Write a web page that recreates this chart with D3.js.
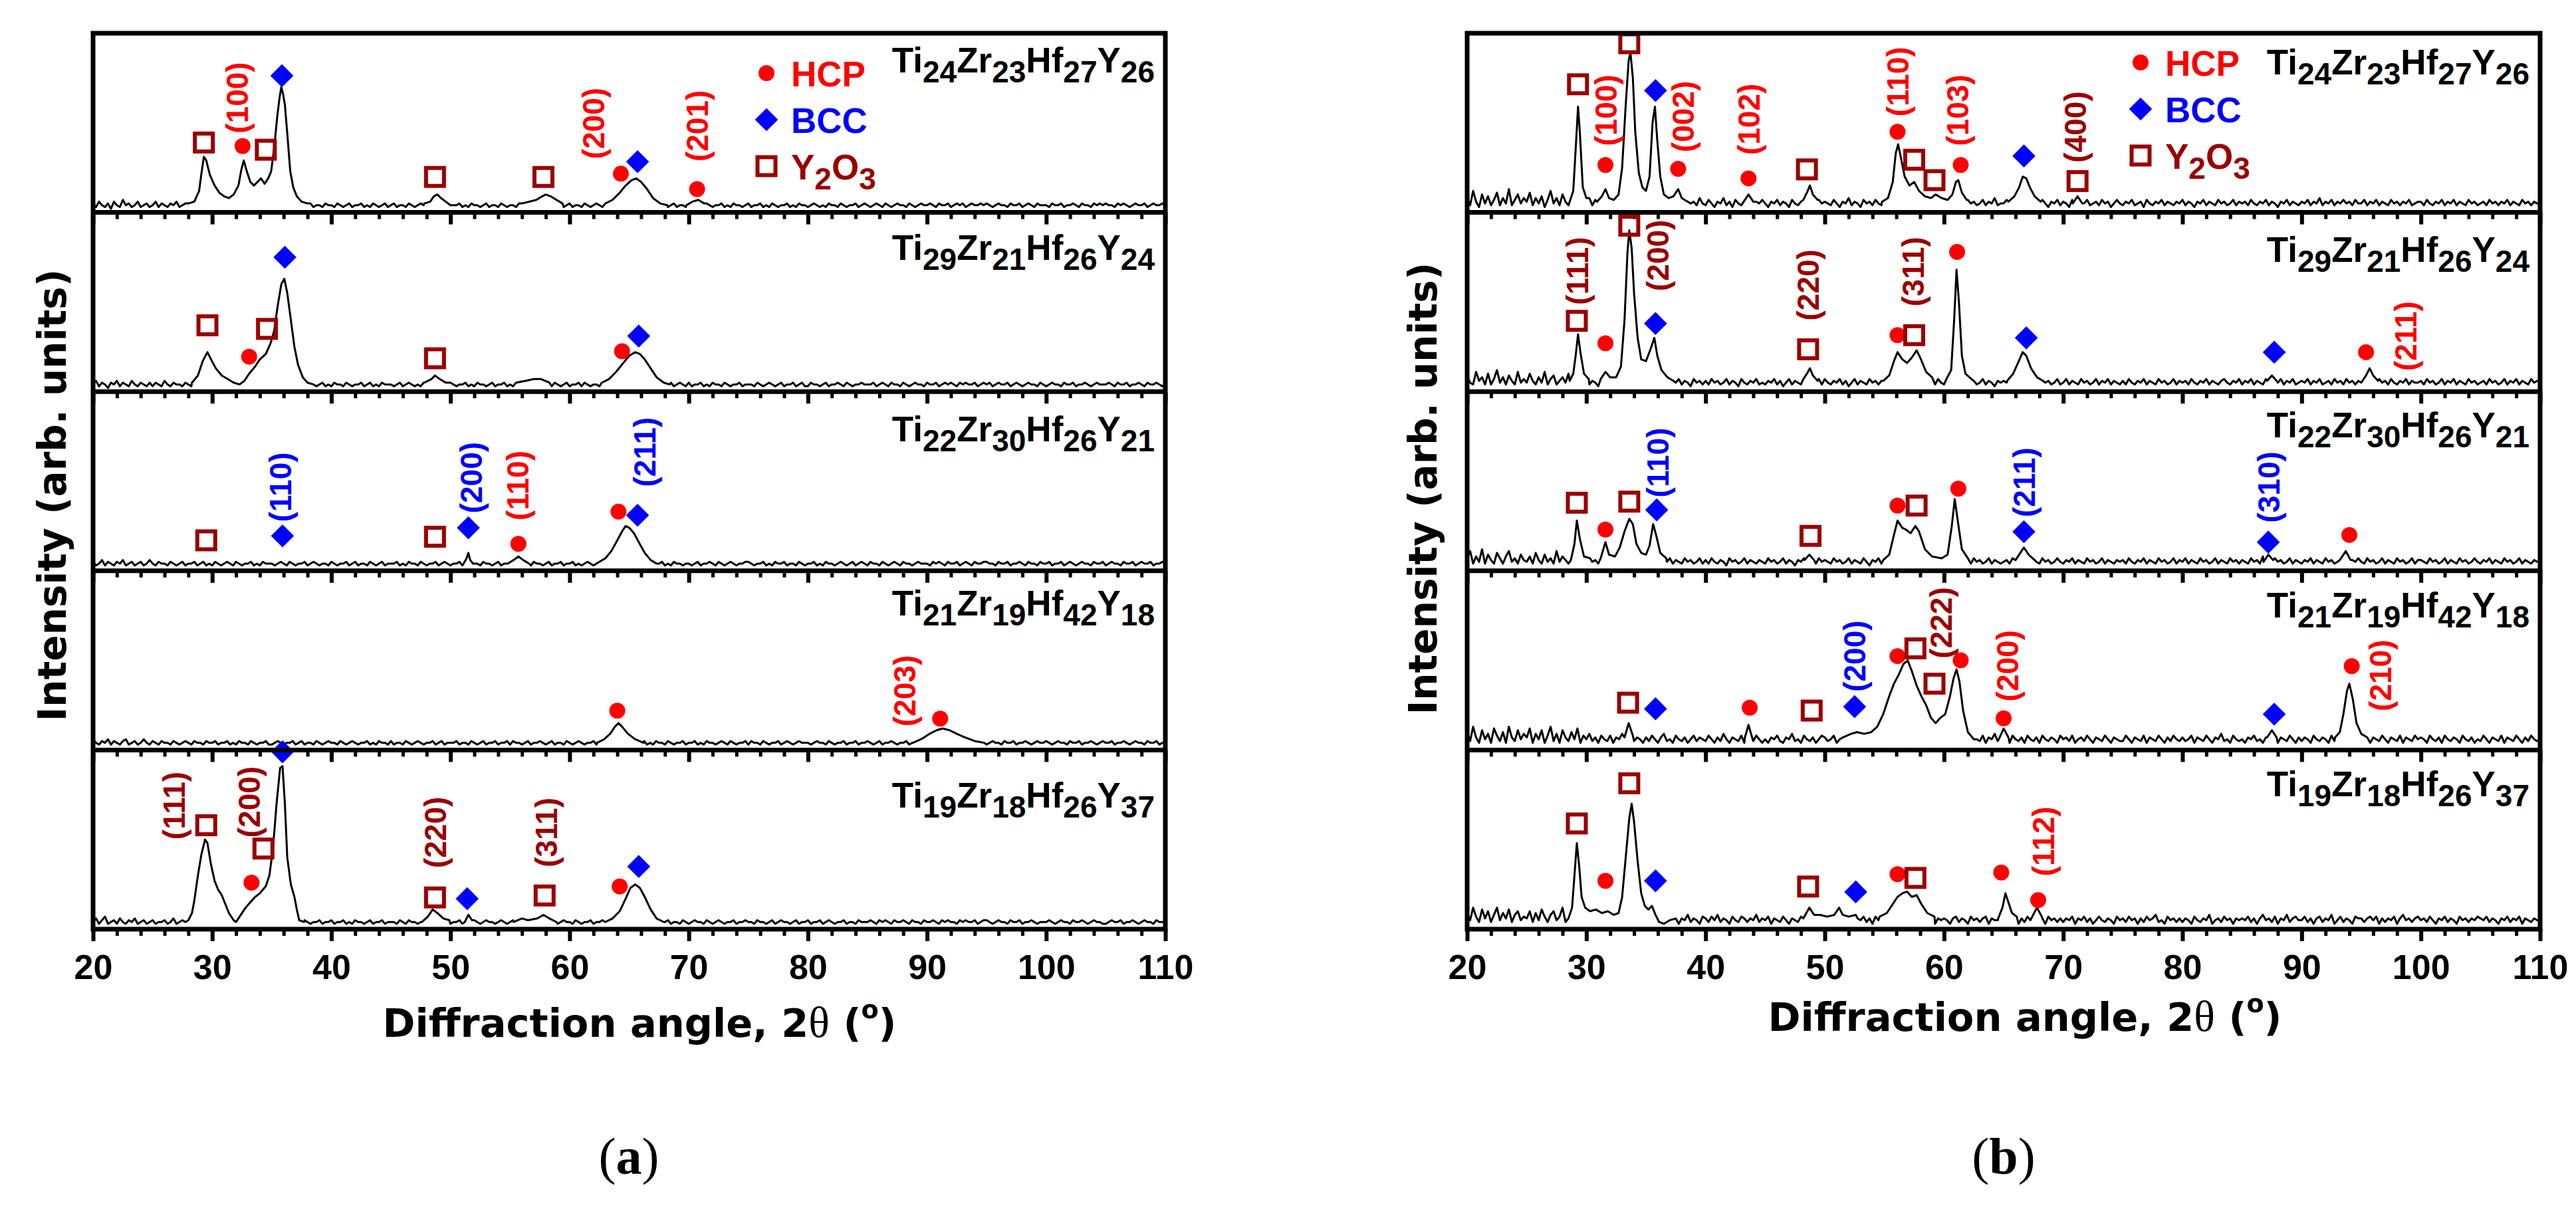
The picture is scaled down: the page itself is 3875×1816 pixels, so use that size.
<!DOCTYPE html>
<html>
<head>
<meta charset="utf-8">
<script src="https://cdn.jsdelivr.net/npm/d3@7"></script>
<style>
  body { margin: 0; background: #fff; }
  svg { font-family: "Liberation Sans", Arial, sans-serif; }
</style>
</head>
<body>
<div class="chart"></div>
<script>
// ---- data (intensity in % of each sub-panel height) ----
const samples = ["Ti24Zr23Hf27Y26", "Ti29Zr21Hf26Y24", "Ti22Zr30Hf26Y21", "Ti21Zr19Hf42Y18", "Ti19Zr18Hf26Y37"];
const xTicks = [20, 30, 40, 50, 60, 70, 80, 90, 100, 110];

// noisy baselines, 20..110 deg every 0.25 deg (one row = 5 deg)
const base_a1 = [
  5,3,6,4,3,5,2,6,4,3,7,4,5,3,4,6,3,4,5,3, 4,6,3,5,4,3,5,4,6,3,4,5,3,4,5,3,4,5,4,3,
  4,3,5,4,3,5,4,3,4,5,3,4,5,3,4,4,5,3,4,5, 3,4,5,4,3,5,4,4,3,5,4,3,4,5,3,4,4,3,5,4,
  4,3,5,4,3,4,5,3,4,4,5,3,4,3,5,4,3,4,5,3, 4,5,3,4,4,3,5,4,3,4,5,4,3,4,3,5,4,3,4,5,
  3,4,4,5,3,4,3,5,4,4,3,4,5,3,4,4,3,5,4,3, 4,4,3,5,4,3,4,5,3,4,4,3,4,5,3,4,5,4,3,4,
  5,3,4,4,3,5,4,3,4,5,4,3,4,3,5,4,4,3,5,4, 3,4,5,3,4,4,5,3,4,3,5,4,4,3,4,5,3,4,4,3,
  4,5,3,4,3,4,5,4,3,4,4,5,3,4,3,5,4,4,3,4, 5,3,4,4,5,3,4,3,5,4,3,4,4,5,3,4,3,5,4,4,
  3,4,5,4,3,4,3,5,4,4,3,5,4,3,4,4,5,3,4,5, 4,3,4,5,4,3,5,4,3,4,5,4,4,3,5,4,3,4,5,4,
  4,5,4,3,5,4,4,5,3,4,5,4,5,3,4,5,4,4,5,4, 5,4,3,4,5,4,4,3,5,4,4,5,3,4,5,4,3,5,4,4,
  4,3,5,4,4,5,3,4,4,5,4,3,5,4,4,3,5,4,5,4, 5,4,4,3,5,4,5,4,3,4,5,4,4,5,3,4,5,4,4,5, 4];
const base_a2 = [
  4,6,3,5,4,2,5,4,6,3,5,4,3,6,4,3,5,4,3,5, 3,5,4,3,6,4,3,5,4,4,3,5,4,3,4,5,3,4,6,4,
  4,3,5,4,4,3,5,3,4,5,4,3,4,5,3,4,4,5,3,4, 5,4,3,4,5,3,4,4,3,5,4,3,5,4,4,3,4,5,3,4,
  3,5,4,4,3,5,4,3,4,4,5,3,4,5,3,4,3,5,4,4, 4,3,4,5,3,4,5,4,3,4,3,5,4,4,3,5,4,3,4,5,
  5,4,3,4,4,5,3,4,3,5,4,4,3,4,5,3,4,4,5,3, 4,3,5,4,3,4,4,5,3,4,5,3,4,4,3,5,4,3,4,5,
  3,4,4,5,3,5,4,3,4,4,3,5,4,3,5,4,4,3,4,5, 4,5,3,4,4,3,5,4,3,5,4,4,3,4,5,3,4,5,4,3,
  5,3,4,4,5,3,4,3,5,4,4,3,5,4,3,4,4,5,3,4, 4,4,3,5,4,3,4,5,4,3,4,5,3,4,4,5,3,4,5,3,
  3,5,4,4,3,4,5,3,4,4,5,4,3,5,4,3,4,4,5,4, 4,4,5,3,4,5,4,3,5,4,4,3,5,4,3,4,5,4,4,3,
  5,4,4,5,3,4,5,4,5,4,3,5,4,5,4,4,5,3,4,5, 4,5,3,4,5,4,4,5,3,4,5,4,3,4,5,4,4,3,5,4,
  3,4,5,4,4,3,5,4,4,5,3,4,4,5,4,3,4,5,4,4, 4,5,4,3,5,4,4,5,3,4,4,5,4,3,5,4,4,5,4,3, 4];
const base_a3 = [
  5,3,4,6,3,5,4,3,5,4,6,3,4,5,3,4,5,3,4,6, 4,3,5,4,4,3,5,4,3,4,5,3,4,4,5,3,4,5,3,4,
  3,5,4,3,4,5,4,3,5,4,3,4,4,5,3,4,3,5,4,4, 4,3,4,5,4,3,5,4,3,4,4,5,3,4,5,4,3,4,4,3,
  5,4,3,4,4,5,3,4,5,3,4,4,3,5,4,3,4,5,3,4, 4,4,5,3,4,3,5,4,4,3,5,4,3,4,4,5,3,4,5,4,
  3,4,4,5,3,4,5,3,4,4,3,5,4,4,3,4,5,3,4,4, 5,3,4,4,5,3,4,3,5,4,4,3,4,5,3,4,4,5,3,4,
  4,5,3,4,3,4,5,4,3,4,5,3,4,4,5,3,4,3,5,4, 3,4,5,4,4,3,4,5,3,4,4,5,3,4,3,5,4,4,3,4,
  4,3,4,5,3,4,4,5,4,3,5,4,3,4,5,4,3,4,4,5, 5,4,3,4,4,5,3,4,3,5,4,4,5,3,4,4,3,5,4,3,
  4,4,5,3,4,3,5,4,4,3,4,5,4,3,4,5,3,4,5,4, 3,5,4,4,3,5,4,3,4,5,4,3,5,4,4,3,4,5,4,4,
  4,3,5,4,5,4,3,5,4,4,5,3,4,5,4,3,5,4,4,5, 5,4,4,3,5,4,4,5,3,4,4,5,4,3,5,4,4,3,5,4,
  4,5,3,4,4,5,3,4,5,4,3,4,5,4,4,3,5,4,4,5, 3,4,5,4,4,3,5,4,4,5,3,4,5,4,4,5,3,4,4,5, 4];
const base_a4 = [
  6,4,3,5,4,6,3,5,4,3,5,6,3,4,5,3,4,6,4,3, 5,4,3,5,4,4,3,5,4,3,4,5,4,3,5,4,4,3,5,4,
  4,5,3,4,4,5,3,4,3,5,4,4,3,5,4,3,4,4,5,3, 3,4,5,4,3,4,4,5,3,4,5,3,4,4,3,5,4,3,4,5,
  4,4,3,5,4,3,4,5,4,3,4,4,5,3,4,3,5,4,4,3, 5,3,4,4,3,5,4,3,4,5,4,3,4,4,5,3,4,5,3,4,
  4,4,5,3,4,4,3,5,4,3,4,5,3,4,4,5,3,4,4,5, 3,5,4,4,3,4,5,3,4,4,5,4,3,4,5,3,4,4,3,5,
  4,3,4,5,4,3,4,4,5,3,4,5,4,3,4,5,3,4,4,3, 5,4,3,4,4,5,3,4,3,5,4,4,3,5,4,3,4,4,5,3,
  4,4,5,3,4,3,5,4,4,3,4,5,4,3,5,4,3,4,4,5, 3,5,4,4,3,5,4,3,4,4,5,3,4,5,4,3,4,5,4,4,
  4,3,4,5,4,4,3,5,4,3,4,4,5,3,4,4,5,3,4,4, 5,4,3,4,5,3,4,4,5,4,3,4,4,5,3,4,4,3,5,4,
  4,5,4,3,4,5,4,4,3,5,4,4,5,3,4,4,5,4,3,4, 3,4,5,4,4,3,5,4,4,5,3,4,4,5,4,3,4,5,4,4,
  5,4,3,4,5,4,4,3,5,4,4,5,3,4,4,5,4,3,4,5, 4,4,5,3,4,4,5,4,3,4,5,4,4,3,5,4,4,5,3,4, 4];
const base_a5 = [
  4,6,3,5,7,3,4,5,3,6,4,3,5,4,6,3,4,5,3,4, 5,3,4,4,5,3,4,6,3,4,5,4,3,4,5,3,4,4,5,3,
  4,4,3,5,4,3,4,5,4,3,5,4,4,3,4,5,3,4,4,5, 3,4,5,4,3,4,5,3,4,4,3,5,4,3,4,4,5,3,4,4,
  5,3,4,4,5,3,4,3,5,4,4,3,4,5,3,4,4,5,3,4, 4,4,3,5,4,3,5,4,4,3,4,5,4,3,4,4,5,3,4,5,
  3,4,4,5,3,4,4,3,5,4,3,4,5,4,4,3,4,5,4,3, 4,5,3,4,4,5,3,4,4,3,5,4,4,3,5,4,3,4,5,4,
  4,3,5,4,3,4,4,5,3,4,4,5,3,4,3,5,4,4,3,4, 5,4,4,3,4,5,3,4,5,4,3,4,4,5,3,4,4,3,5,4,
  3,4,5,4,4,3,5,4,3,4,5,4,3,4,4,5,3,4,4,5, 4,4,3,5,4,4,3,4,5,3,4,5,4,4,3,4,5,3,4,4,
  5,3,4,4,5,3,4,5,4,3,4,4,5,3,4,4,3,5,4,4, 4,5,4,3,5,4,5,4,3,5,4,4,5,4,3,5,4,4,3,5,
  4,4,5,4,3,5,4,5,4,4,3,5,4,5,4,4,5,3,4,5, 5,4,3,4,5,4,4,3,5,4,4,5,3,4,4,5,4,3,4,4,
  4,5,4,3,4,5,4,4,3,5,4,4,5,4,3,4,5,4,4,3, 3,4,5,4,4,5,3,4,4,5,4,3,4,5,4,4,3,5,4,4, 4];
const base_b1 = [
  8,4,12,6,3,10,5,9,4,7,11,4,8,5,13,4,7,10,5,8, 6,11,4,8,5,9,3,7,12,5,8,4,10,6,4,9,5,11,4,7,
  5,8,4,7,3,6,5,8,4,6,7,4,6,5,8,3,6,5,7,4, 6,4,7,5,3,6,8,4,6,5,7,3,6,4,7,5,6,4,8,5,
  4,7,5,3,6,5,8,4,6,3,7,5,4,6,5,8,4,6,5,7, 5,3,6,5,7,4,6,5,3,7,5,4,6,8,4,5,6,3,7,5,
  6,5,4,7,5,3,6,5,8,4,6,5,3,7,5,6,4,7,5,4, 4,6,5,3,7,5,4,6,5,8,4,5,6,3,7,5,4,6,5,7,
  6,4,7,5,4,6,5,3,7,5,6,4,5,7,4,6,5,8,4,5, 5,7,4,6,5,3,6,5,7,4,6,5,4,7,5,3,6,5,7,4,
  6,5,3,7,5,4,6,5,7,4,5,6,4,7,5,6,3,5,7,5, 4,6,5,7,4,5,6,3,7,5,4,6,5,7,4,6,5,4,6,5,
  7,4,6,5,3,6,5,7,4,6,5,4,7,5,6,4,5,7,4,6, 5,6,4,7,5,4,6,5,7,4,6,5,3,6,5,7,4,6,5,4,
  6,5,7,4,6,5,8,4,6,5,7,4,6,5,7,5,6,4,7,5, 5,7,4,6,5,7,4,6,5,4,7,5,6,4,6,5,7,4,5,6,
  6,4,7,5,4,6,5,7,4,6,5,7,4,6,5,4,7,5,6,4, 5,6,4,7,5,6,4,6,5,7,4,6,5,4,7,5,6,4,6,5, 5];
const base_b2 = [
  9,5,4,11,6,8,4,10,4,7,12,5,8,4,9,6,4,11,5,7, 5,10,6,4,8,5,11,4,7,9,4,6,8,5,10,4,7,4,9,6,
  7,4,6,5,3,7,5,6,4,8,5,4,6,5,7,4,6,5,3,6, 5,7,4,6,5,4,8,5,3,6,5,7,4,6,5,3,7,5,6,4,
  6,4,7,5,6,4,5,7,4,6,5,3,7,5,4,6,5,7,4,5, 4,6,5,7,4,6,3,5,7,4,6,5,4,7,5,6,4,5,7,4,
  7,5,4,6,5,7,4,6,3,5,7,4,6,5,4,7,5,6,4,6, 5,4,6,7,4,5,6,4,7,5,4,6,5,7,4,5,6,4,7,5,
  4,6,5,7,4,6,5,4,7,5,6,4,5,7,4,6,5,3,6,5, 6,5,4,7,5,6,4,5,7,4,6,5,4,7,5,6,4,5,7,4,
  5,7,4,6,5,4,7,5,6,4,5,7,4,6,5,7,4,6,5,4, 6,4,7,5,4,6,5,7,4,6,5,4,7,5,6,4,5,7,4,6,
  5,6,4,7,5,4,6,5,7,4,6,5,4,6,7,5,4,6,5,7, 4,6,5,7,4,6,5,4,7,5,6,4,5,7,4,6,5,7,4,5,
  6,5,7,4,6,5,7,4,5,6,4,7,5,6,4,7,5,6,4,6, 5,7,4,6,5,4,7,5,6,4,7,5,4,6,5,7,4,6,5,5,
  6,4,7,5,6,4,5,7,4,6,5,7,4,6,5,4,7,5,6,4, 5,6,4,7,5,6,4,5,7,4,6,5,7,4,6,5,4,7,5,6, 5];
const base_b3 = [
  7,11,4,8,5,12,4,9,6,4,10,7,4,8,11,5,7,4,9,6, 5,8,4,10,6,4,9,5,7,4,11,5,8,6,4,9,5,7,4,8,
  4,7,5,6,4,8,5,4,7,5,6,4,7,5,3,6,5,7,4,6, 5,6,4,7,5,3,6,5,7,4,6,5,4,7,5,6,4,5,7,4,
  6,4,7,5,4,6,5,3,7,5,6,4,5,7,4,6,5,4,6,5, 4,7,5,6,4,5,7,4,6,5,3,6,5,7,4,6,5,4,7,5,
  6,5,4,7,5,6,4,5,7,4,6,5,4,7,5,3,6,5,7,4, 5,4,6,5,7,4,6,5,4,7,5,6,4,5,7,4,6,5,4,6,
  7,5,4,6,5,7,4,6,5,4,7,5,6,4,5,7,4,6,5,4, 5,6,4,7,5,4,6,5,7,4,6,5,4,7,5,6,4,5,7,5,
  4,6,5,7,4,6,5,4,7,5,6,4,5,7,4,6,5,4,6,5, 6,4,7,5,4,6,5,7,4,6,5,4,7,5,6,4,5,7,4,6,
  5,7,4,6,5,4,7,5,6,4,5,7,4,6,5,4,7,5,6,4, 6,5,4,7,5,6,4,8,5,6,4,7,5,6,4,5,7,4,6,5,
  4,6,5,7,4,6,5,4,7,5,6,4,5,7,5,6,4,6,5,7, 5,4,7,5,6,4,5,7,4,6,5,4,7,5,6,4,5,7,4,6,
  6,5,4,7,5,6,4,5,7,4,6,5,4,7,5,6,4,5,7,5, 4,6,5,7,4,6,5,4,7,5,6,4,5,7,4,6,5,4,6,5, 5];
const base_b4 = [
  10,5,13,7,4,11,6,9,4,12,8,5,10,4,13,7,5,11,6,9, 7,12,4,9,6,11,4,8,13,5,9,4,11,7,5,10,6,12,4,8,
  6,9,5,7,4,8,6,5,8,4,7,6,9,4,6,8,5,7,6,4, 7,5,8,6,4,7,9,5,6,4,8,6,5,7,4,6,8,5,7,6,
  5,8,6,4,7,5,9,6,4,7,6,5,8,4,6,7,5,8,6,4, 6,4,7,6,8,5,4,7,6,9,5,6,4,8,6,5,7,4,6,8,
  7,5,6,8,4,6,7,5,9,4,6,7,5,8,6,4,7,6,5,8, 5,7,6,4,8,6,5,7,4,9,6,5,7,4,8,6,5,7,6,4,
  6,5,8,6,4,7,6,5,8,4,7,6,5,8,4,7,6,9,5,6, 7,6,4,8,6,5,7,4,8,6,5,7,4,8,6,5,7,6,4,8,
  6,7,5,8,4,6,7,5,8,6,4,7,6,5,8,6,4,7,6,5, 5,8,6,4,7,6,5,8,4,7,6,5,8,6,4,7,5,8,6,5,
  7,5,6,8,4,7,6,5,8,6,4,7,6,9,5,6,4,8,6,5, 6,4,7,6,8,5,6,4,7,6,5,8,4,7,6,5,8,6,4,7,
  5,7,6,4,8,6,5,7,6,4,8,5,7,6,9,5,7,6,4,8, 6,5,8,4,7,6,5,8,6,4,7,6,5,8,4,7,6,5,8,6,
  7,6,4,8,6,5,7,4,8,6,5,7,6,4,8,6,5,7,4,6, 5,8,6,4,7,6,5,8,4,7,6,5,8,6,4,7,5,8,6,5, 6];
const base_b5 = [
  9,5,12,7,4,11,6,10,4,8,12,5,9,6,11,4,8,10,5,7, 6,10,4,9,5,11,7,4,8,10,5,7,12,4,8,6,9,4,7,5,
  6,4,7,5,8,4,6,7,4,6,5,8,4,6,7,4,6,5,3,7, 5,7,4,6,3,6,8,5,6,4,7,3,6,5,8,4,6,5,3,7,
  6,4,7,5,8,4,6,5,3,7,5,4,7,6,4,6,5,8,4,6, 5,7,3,6,5,4,7,5,3,6,5,4,7,5,6,3,6,8,4,6,
  7,4,6,5,3,7,5,4,8,6,3,6,5,7,4,6,3,7,5,6, 4,6,5,8,3,7,5,6,4,6,7,3,5,6,4,7,5,3,6,5,
  6,5,3,6,7,4,6,5,3,7,5,6,4,6,7,3,6,5,5,4, 5,7,4,6,5,3,6,4,7,5,6,7,4,6,3,7,5,6,4,6,
  4,6,5,7,3,6,5,7,4,6,3,5,7,5,4,6,5,3,7,5, 6,4,7,5,6,3,6,4,7,5,6,8,4,5,3,7,5,6,4,6,
  4,6,5,3,7,5,4,6,5,8,3,5,6,4,7,5,6,3,6,5, 6,5,7,4,6,3,6,8,5,6,4,7,3,6,5,8,4,6,7,5,
  5,7,4,6,3,6,7,4,6,5,8,3,5,7,4,6,5,3,7,6, 6,4,6,7,5,7,3,6,4,6,5,7,3,6,8,5,6,4,6,7,
  5,6,4,7,5,3,6,5,7,4,6,5,3,7,5,6,4,6,5,7, 6,5,7,4,6,5,3,6,5,7,4,6,5,7,3,6,5,4,6,5, 5];

// diffraction peaks as [2theta, intensity] groups (replace the baseline over their range)
const peaks_a1 = [
  [[28.0,5],[28.5,6],[28.9,12],[29.1,22],[29.3,31],[29.5,29],[29.8,21],[30.2,15],[30.6,11],[31.0,9],[31.4,8],[31.8,10],[32.2,15],[32.45,24],[32.65,29],[32.9,23],[33.2,17],[33.5,15],[33.8,17],[34.1,19],[34.4,16],[34.7,19],[34.95,23],[35.2,36],[35.45,53],[35.65,64],[35.8,70],[35.95,66],[36.1,60],[36.3,44],[36.55,23],[36.8,14],[37.1,9],[37.5,6],[38.0,5]],
  [[47.8,5],[48.3,6],[48.6,9],[48.9,10],[49.2,8],[49.6,6],[50.0,4]],
  [[56.0,5],[56.6,6],[57.2,7],[57.7,9],[58.0,10],[58.4,9],[58.9,7],[59.4,5]],
  [[63.0,5],[63.6,7],[64.2,11],[64.7,15],[65.2,18],[65.6,19],[66.0,17],[66.5,13],[67.0,8],[67.6,5],[68.2,4]],
  [[69.8,4],[70.3,6],[70.8,7],[71.3,5]]
];
const peaks_a2 = [
  [[28.3,5],[28.8,9],[29.2,17],[29.6,22],[29.9,18],[30.3,13],[30.8,9],[31.3,7],[31.8,5],[32.3,4],[32.7,6],[33.1,10],[33.6,14],[34.0,18],[34.5,21],[34.9,27],[35.2,34],[35.5,48],[35.8,60],[36.05,63],[36.3,55],[36.6,40],[36.9,25],[37.2,15],[37.6,8],[38.0,5],[38.5,4]],
  [[47.8,5],[48.4,7],[48.7,9],[49.1,7],[49.6,5]],
  [[55.5,5],[56.3,6],[57.0,7],[57.6,7],[58.3,5]],
  [[62.7,5],[63.3,7],[63.9,11],[64.5,16],[65.0,20],[65.5,22],[65.9,21],[66.3,18],[66.8,13],[67.3,8],[67.9,5],[68.4,4]]
];
const peaks_a3 = [
  [[51.1,4],[51.35,7],[51.5,10],[51.65,6],[51.9,4]],
  [[54.8,4],[55.3,6],[55.7,8],[56.1,6],[56.6,4]],
  [[62.5,5],[63.0,7],[63.5,11],[64.0,17],[64.4,22],[64.7,25],[65.0,24],[65.4,21],[65.8,16],[66.3,10],[66.8,6],[67.3,4]]
];
const peaks_a4 = [
  [[62.3,4],[62.9,6],[63.4,9],[63.8,13],[64.1,15],[64.4,13],[64.9,9],[65.5,6],[66.2,4]],
  [[88.8,4],[89.5,6],[90.2,9],[90.8,11],[91.3,12],[91.9,11],[92.5,9],[93.2,7],[94.0,5],[94.8,4]]
];
const peaks_a5 = [
  [[28.0,5],[28.3,9],[28.5,16],[28.8,30],[29.1,42],[29.4,50],[29.6,48],[29.9,36],[30.2,27],[30.5,22],[30.8,19],[31.1,14],[31.4,9],[31.8,5],[32.0,4],[32.4,8],[32.8,12],[33.2,15],[33.6,18],[34.0,20],[34.5,24],[34.8,30],[35.1,45],[35.4,70],[35.7,90],[35.9,91],[36.1,70],[36.3,40],[36.6,25],[36.9,18],[37.1,11],[37.3,5],[37.7,4]],
  [[47.6,4],[48.1,7],[48.5,11],[48.9,9],[49.4,6],[49.9,5]],
  [[51.2,4],[51.5,8],[51.8,5]],
  [[55.3,4],[56.0,6],[56.5,5],[57.3,6],[57.8,8],[58.3,6],[58.9,4]],
  [[63.0,4],[63.6,6],[64.2,10],[64.7,17],[65.1,23],[65.5,25],[65.9,23],[66.3,18],[66.8,11],[67.3,6],[67.9,4]]
];
const peaks_b1 = [
  [[28.6,6],[28.9,12],[29.1,35],[29.3,59],[29.45,45],[29.7,14],[30.0,8]],
  [[30.9,6],[31.3,9],[31.6,13],[31.9,8],[32.3,7],[32.7,10],[33.0,25],[33.3,60],[33.55,85],[33.7,89],[33.9,75],[34.1,45],[34.4,22],[34.7,14],[35.0,12],[35.3,20],[35.55,50],[35.75,59],[35.95,40],[36.2,20],[36.5,10],[36.9,8],[37.3,9],[37.7,13],[38.0,8],[38.5,6]],
  [[43.2,6],[43.6,10],[44.0,6]],
  [[48.2,7],[48.5,11],[48.75,15],[49.0,10],[49.4,7]],
  [[54.8,6],[55.3,8],[55.7,17],[55.95,33],[56.15,38],[56.4,30],[56.7,20],[57.1,15],[57.5,17],[57.9,12],[58.4,9],[58.9,8],[59.3,10],[59.8,8],[60.3,7],[60.7,10],[61.0,17],[61.2,18],[61.5,11],[61.9,7]],
  [[65.4,6],[65.9,9],[66.3,14],[66.6,20],[66.9,19],[67.2,14],[67.6,9],[68.1,6]],
  [[70.8,5],[71.2,9],[71.6,5]]
];
const peaks_b2 = [
  [[28.6,6],[28.9,10],[29.1,20],[29.3,32],[29.5,22],[29.8,10],[30.2,7]],
  [[31.2,7],[31.6,11],[32.0,8],[32.5,8],[32.9,14],[33.2,40],[33.45,78],[33.6,90],[33.8,80],[34.0,55],[34.3,30],[34.6,18],[35.0,17],[35.4,24],[35.7,30],[35.95,20],[36.3,12],[36.8,8],[37.3,6]],
  [[48.2,7],[48.5,10],[48.75,13],[49.0,9],[49.4,6]],
  [[54.9,6],[55.4,9],[55.8,17],[56.1,22],[56.5,18],[56.9,16],[57.3,19],[57.7,23],[58.0,19],[58.5,11],[59.0,8]],
  [[60.2,7],[60.6,12],[60.85,40],[61.05,68],[61.25,50],[61.5,20],[61.8,10],[62.3,7]],
  [[65.3,6],[65.8,10],[66.2,16],[66.6,22],[66.9,20],[67.3,13],[67.8,8],[68.3,6]],
  [[87.1,6],[87.5,9],[87.9,6]],
  [[95.1,6],[95.4,9],[95.7,13],[96.0,9],[96.4,6]]
];
const peaks_b3 = [
  [[28.7,6],[29.0,15],[29.2,28],[29.45,18],[29.8,8],[30.3,7]],
  [[31.2,7],[31.6,16],[31.9,9],[32.4,8],[32.8,13],[33.2,22],[33.6,29],[33.9,26],[34.2,15],[34.6,10],[35.0,9],[35.3,14],[35.6,26],[35.85,20],[36.2,10],[36.7,7]],
  [[48.3,6],[48.7,9],[49.1,6]],
  [[54.9,6],[55.4,9],[55.8,20],[56.1,28],[56.5,24],[56.8,23],[57.2,21],[57.6,25],[57.9,22],[58.4,12],[59.0,8],[59.8,7],[60.3,9],[60.65,25],[60.9,40],[61.15,28],[61.5,12],[62.0,7]],
  [[66.0,6],[66.4,10],[66.7,13],[67.1,9],[67.6,6]],
  [[86.8,5],[87.2,9],[87.6,6]],
  [[93.2,6],[93.7,11],[94.1,6]]
];
const peaks_b4 = [
  [[33.2,7],[33.55,15],[33.9,8]],
  [[43.3,7],[43.6,14],[43.9,7]],
  [[51.5,7],[52.2,9],[52.7,10],[53.3,9],[53.9,10],[54.4,13],[54.9,20],[55.4,30],[55.8,37],[56.2,42],[56.6,48],[56.95,50],[57.3,44],[57.7,36],[58.1,30],[58.5,25],[58.9,18],[59.3,15],[59.7,18],[60.1,20],[60.5,30],[60.8,40],[61.05,45],[61.3,38],[61.6,22],[62.0,10],[62.5,6]],
  [[64.6,6],[65.0,12],[65.4,7]],
  [[87.1,7],[87.5,11],[87.9,7]],
  [[92.8,7],[93.2,10],[93.5,20],[93.8,33],[94.0,37],[94.3,28],[94.6,15],[95.0,9],[95.5,7]]
];
const peaks_b5 = [
  [[28.5,6],[28.8,12],[29.0,30],[29.2,48],[29.4,35],[29.6,18],[29.9,12],[30.3,10],[30.8,11],[31.3,9],[31.8,10],[32.3,8],[32.7,9],[33.0,18],[33.3,40],[33.6,62],[33.8,70],[34.0,60],[34.3,38],[34.6,20],[34.9,13],[35.2,11],[35.5,13],[35.8,8],[36.1,4],[36.5,3],[37.0,5],[37.5,6]],
  [[48.2,6],[48.7,12],[49.1,8],[49.6,8],[50.2,7],[50.8,8],[51.2,12],[51.5,8],[52.0,7],[52.6,8]],
  [[54.6,7],[55.2,9],[55.7,14],[56.1,18],[56.5,20],[56.9,21],[57.3,18],[57.7,19],[58.1,14],[58.6,9],[59.2,7]],
  [[64.6,7],[64.9,12],[65.15,20],[65.4,15],[65.7,9],[66.1,7]],
  [[67.4,7],[67.8,12],[68.2,7]]
];

// phase markers [2theta, intensity]
const hcp_a1 = [[32.55,37],[64.3,21.6],[70.7,13]];
const bcc_a1 = [[35.85,76.3],[65.7,28.3]];
const y2o3_a1 = [[29.3,39],[34.5,35],[48.7,19.8],[57.8,19.8]];
const hcp_a2 = [[33.1,19.5],[64.4,22.5]];
const bcc_a2 = [[36.1,75],[65.8,31]];
const y2o3_a2 = [[29.6,37],[34.6,35],[48.7,18.6]];
const hcp_a3 = [[55.7,15],[64.1,33]];
const bcc_a3 = [[35.9,19.5],[51.5,24],[65.7,31]];
const y2o3_a3 = [[29.5,17],[48.7,19]];
const hcp_a4 = [[64.0,21.9],[91.1,17.5]];
const bcc_a4 = [];
const y2o3_a4 = [];
const hcp_a5 = [[33.3,26],[64.2,23.8]];
const bcc_a5 = [[35.9,99],[51.4,17],[65.8,35]];
const y2o3_a5 = [[29.5,58],[34.3,45],[48.7,17.7],[57.9,18.8]];

const hcp_b1 = [[31.6,26.5],[37.7,24.3],[43.6,19],[56.1,45],[61.4,26.5]];
const bcc_b1 = [[35.8,68],[66.7,31.5]];
const y2o3_b1 = [[29.3,71.5],[33.6,94.4],[48.5,24],[57.5,29.4],[59.2,18],[71.2,17.5]];
const hcp_b2 = [[31.6,27],[56.1,31.5],[61.1,78],[95.4,22]];
const bcc_b2 = [[35.8,38],[66.9,30],[87.7,22]];
const y2o3_b2 = [[29.2,39.5],[33.6,92.6],[48.6,23.6],[57.5,31.5]];
const hcp_b3 = [[31.6,23],[56.1,36.4],[61.2,45.8],[94.0,20]];
const bcc_b3 = [[35.9,34],[66.7,21.8],[87.2,16]];
const y2o3_b3 = [[29.2,38],[33.6,38.6],[48.8,19.5],[57.7,36.4]];
const hcp_b4 = [[43.7,23.6],[56.1,52.4],[61.4,50],[65.0,17.7],[94.2,46.8]];
const bcc_b4 = [[35.8,23],[52.5,24.2],[87.7,20]];
const y2o3_b4 = [[33.5,26.4],[48.9,22],[57.6,56.7],[59.2,37]];
const hcp_b5 = [[31.6,27],[56.1,30.7],[64.8,31.6],[67.9,16.2]];
const bcc_b5 = [[35.8,27],[52.6,20.8]];
const y2o3_b5 = [[29.2,59],[33.6,81.4],[48.6,23.8],[57.6,28.6]];

// (hkl) labels [2theta, intensity, text, phase]
const hkl_a1 = [[32.1,64,"(100)","hcp"],[62.0,49.7,"(200)","hcp"],[70.7,48.3,"(201)","hcp"]];
const hkl_a2 = [];
const hkl_a3 = [[35.7,46.7,"(110)","bcc"],[51.7,52,"(200)","bcc"],[55.6,47.6,"(110)","hcp"],[66.3,66.3,"(211)","bcc"]];
const hkl_a4 = [[88.1,33,"(203)","hcp"]];
const hkl_a5 = [[26.8,69,"(111)","y2o3"],[33.1,71,"(200)","y2o3"],[48.7,54,"(220)","y2o3"],[58.0,54,"(311)","y2o3"]];
const hkl_b1 = [[31.6,57,"(100)","hcp"],[38.1,53.5,"(002)","hcp"],[43.6,52,"(102)","hcp"],[56.1,73,"(110)","hcp"],[61.1,57,"(103)","hcp"],[71.0,47.7,"(400)","y2o3"]];
const hkl_b2 = [[29.2,67.4,"(111)","y2o3"],[36.0,76,"(200)","y2o3"],[48.6,59.5,"(220)","y2o3"],[57.4,67,"(311)","y2o3"],[98.7,31,"(211)","hcp"]];
const hkl_b3 = [[36.0,60.4,"(110)","bcc"],[66.7,49.4,"(211)","bcc"],[87.2,46.7,"(310)","bcc"]];
const hkl_b4 = [[52.5,52.4,"(200)","bcc"],[59.7,71,"(222)","y2o3"],[65.3,47,"(200)","hcp"],[96.6,41.6,"(210)","hcp"]];
const hkl_b5 = [[68.3,49,"(112)","hcp"]];

const legendItems = [["hcp", "HCP"], ["bcc", "BCC"], ["y2o3", "Y2O3"]];

// ---- layout ----
const W = 3875, H = 1816;
const plotTop = 50, plotBottom = 1398, subH = (plotBottom - plotTop) / 5;
const colors = {hcp: "#ff0000", bcc: "#0000ff", y2o3: "#990000"};
const titleFont = "'DejaVu Sans', Verdana, sans-serif";
const serifFont = "'Liberation Serif', 'Times New Roman', serif";

const panels = [
  {x0: 140, x1: 1753, nameDy: [59, 71, 75, 67, 87], legendY: 110, capX: 946, yTitle: [78, 745], xTitle: [962, 1560],
   base: [base_a1, base_a2, base_a3, base_a4, base_a5], peaks: [peaks_a1, peaks_a2, peaks_a3, peaks_a4, peaks_a5],
   hcp: [hcp_a1, hcp_a2, hcp_a3, hcp_a4, hcp_a5], bcc: [bcc_a1, bcc_a2, bcc_a3, bcc_a4, bcc_a5],
   y2o3: [y2o3_a1, y2o3_a2, y2o3_a3, y2o3_a4, y2o3_a5], hkl: [hkl_a1, hkl_a2, hkl_a3, hkl_a4, hkl_a5], cap: "a"},
  {x0: 2207, x1: 3821, nameDy: [62, 74, 69, 70, 70], legendY: 94, capX: 3014, yTitle: [2140, 735], xTitle: [3046, 1551],
   base: [base_b1, base_b2, base_b3, base_b4, base_b5], peaks: [peaks_b1, peaks_b2, peaks_b3, peaks_b4, peaks_b5],
   hcp: [hcp_b1, hcp_b2, hcp_b3, hcp_b4, hcp_b5], bcc: [bcc_b1, bcc_b2, bcc_b3, bcc_b4, bcc_b5],
   y2o3: [y2o3_b1, y2o3_b2, y2o3_b3, y2o3_b4, y2o3_b5], hkl: [hkl_b1, hkl_b2, hkl_b3, hkl_b4, hkl_b5], cap: "b"}
];

// merge baseline + peak groups into one pattern
function pattern(base, peaks) {
  const pts = base.map((v, i) => [20 + i * 0.25, v])
    .filter(([t]) => !peaks.some(g => t >= g[0][0] && t <= g[g.length - 1][0]));
  return pts.concat(...peaks).sort((p, q) => p[0] - q[0]);
}

// chemical formula with subscripts
function formula(text, name, big, small, shift) {
  let down = false;
  name.match(/[A-Z][a-z]?|\d+/g).forEach(p => {
    const sub = /\d/.test(p);
    const t = text.append("tspan").text(p).attr("font-size", sub ? small : big);
    if (sub && !down) { t.attr("dy", shift); down = true; }
    else if (!sub && down) { t.attr("dy", -shift); down = false; }
  });
}

const svg = d3.select(".chart").append("svg")
  .attr("width", W)
  .attr("height", H)
  .style("background", "#fff");

const diamond = d3.symbol().type(d3.symbolSquare).size(600);

panels.forEach(P => {
  const x = d3.scaleLinear().domain([20, 110]).range([P.x0, P.x1]);
  const g = svg.append("g");

  for (let i = 0; i < 5; i++) {
    const y = d3.scaleLinear().domain([0, 100]).range([plotTop + (i + 1) * subH, plotTop + i * subH]);
    const yb = plotTop + (i + 1) * subH;

    // minor ticks
    g.append("g")
      .attr("transform", `translate(0,${yb})`)
      .call(d3.axisBottom(x).tickValues(d3.range(20, 111, 2).filter(v => v % 10)).tickSize(10).tickFormat(""))
      .call(a => a.select(".domain").remove())
      .selectAll(".tick line").attr("stroke-width", 5);

    // major ticks
    const ax = g.append("g")
      .attr("transform", `translate(0,${yb})`)
      .call(d3.axisBottom(x).tickValues(xTicks).tickSize(18).tickPadding(20)
        .tickFormat(i === 4 ? d3.format("d") : ""))
      .call(a => a.select(".domain").remove());
    ax.selectAll(".tick line").attr("stroke-width", 6);
    ax.selectAll(".tick text")
      .attr("font-size", 52).attr("font-weight", "bold").attr("fill", "#000")
      .style("font-family", "'Liberation Sans', Arial, sans-serif");

    // the pattern
    const line = d3.line().x(d => x(d[0])).y(d => y(d[1]));
    g.append("path")
      .datum(pattern(P.base[i], P.peaks[i]))
      .attr("fill", "none")
      .attr("stroke", "#000")
      .attr("stroke-width", 3)
      .attr("stroke-linejoin", "round")
      .attr("d", line);

    // markers
    g.append("g").selectAll("circle")
      .data(P.hcp[i])
      .join("circle")
      .attr("cx", d => x(d[0]))
      .attr("cy", d => y(d[1]))
      .attr("r", 12)
      .attr("fill", colors.hcp);

    g.append("g").selectAll("path")
      .data(P.bcc[i])
      .join("path")
      .attr("d", diamond)
      .attr("transform", d => `translate(${x(d[0])},${y(d[1])}) rotate(45)`)
      .attr("fill", colors.bcc);

    g.append("g").selectAll("rect")
      .data(P.y2o3[i])
      .join("rect")
      .attr("x", d => x(d[0]) - 13.5)
      .attr("y", d => y(d[1]) - 13.5)
      .attr("width", 27)
      .attr("height", 27)
      .attr("fill", "none")
      .attr("stroke", colors.y2o3)
      .attr("stroke-width", 6);

    // (hkl) labels
    g.append("g").selectAll("text")
      .data(P.hkl[i])
      .join("text")
      .attr("transform", d => `translate(${x(d[0])},${y(d[1])}) rotate(-90)`)
      .attr("text-anchor", "middle")
      .attr("dy", "0.36em")
      .attr("font-size", 46)
      .attr("font-weight", "bold")
      .attr("fill", d => colors[d[3]])
      .text(d => d[2]);

    // sample name
    const nm = g.append("text")
      .attr("x", P.x1 - 16)
      .attr("y", plotTop + i * subH + P.nameDy[i])
      .attr("text-anchor", "end")
      .attr("font-weight", "bold")
      .attr("fill", "#000");
    formula(nm, samples[i], 53, 46, 15);
  }

  // legend
  legendItems.forEach(([k, label], j) => {
    const cx = P.x0 + 1013, cy = P.legendY + j * 70;
    if (k === "hcp") g.append("circle").attr("cx", cx).attr("cy", cy).attr("r", 12).attr("fill", colors.hcp);
    if (k === "bcc") g.append("path").attr("d", diamond).attr("transform", `translate(${cx},${cy}) rotate(45)`).attr("fill", colors.bcc);
    if (k === "y2o3") g.append("rect").attr("x", cx - 13.5).attr("y", cy - 13.5).attr("width", 27).attr("height", 27)
      .attr("fill", "none").attr("stroke", colors.y2o3).attr("stroke-width", 6);
    const t = g.append("text").attr("x", cx + 37).attr("y", cy + 20)
      .attr("font-weight", "bold").attr("fill", colors[k]);
    formula(t, label, 53, 46, 15);
  });

  // frame and dividers
  g.append("rect")
    .attr("x", P.x0).attr("y", plotTop)
    .attr("width", P.x1 - P.x0).attr("height", plotBottom - plotTop)
    .attr("fill", "none").attr("stroke", "#000").attr("stroke-width", 7);
  g.append("g").selectAll("line")
    .data(d3.range(1, 5))
    .join("line")
    .attr("x1", P.x0).attr("x2", P.x1)
    .attr("y1", k => plotTop + k * subH).attr("y2", k => plotTop + k * subH)
    .attr("stroke", "#000").attr("stroke-width", 7);

  // axis titles
  g.append("text")
    .attr("transform", `translate(${P.yTitle[0]},${P.yTitle[1]}) rotate(-90)`)
    .attr("text-anchor", "middle")
    .attr("dy", "0.36em")
    .style("font-family", titleFont)
    .attr("font-size", 58)
    .attr("font-weight", "bold")
    .text("Intensity (arb. units)");

  const xt = g.append("text")
    .attr("x", P.xTitle[0]).attr("y", P.xTitle[1])
    .attr("text-anchor", "middle")
    .style("font-family", titleFont)
    .attr("font-size", 59)
    .attr("font-weight", "bold");
  xt.append("tspan").text("Diffraction angle, 2");
  xt.append("tspan").style("font-family", serifFont).attr("font-weight", "normal").attr("font-size", 66).text("θ");
  xt.append("tspan").text(" (");
  xt.append("tspan").attr("font-size", 38).attr("dy", -28).text("o");
  xt.append("tspan").attr("dy", 28).text(")");

  // panel caption
  const cap = g.append("text")
    .attr("x", P.capX).attr("y", 1766)
    .attr("text-anchor", "middle")
    .attr("font-size", 78)
    .style("font-family", serifFont);
  cap.append("tspan").text("(");
  cap.append("tspan").attr("font-weight", "bold").text(P.cap);
  cap.append("tspan").text(")");
});
</script>
</body>
</html>
